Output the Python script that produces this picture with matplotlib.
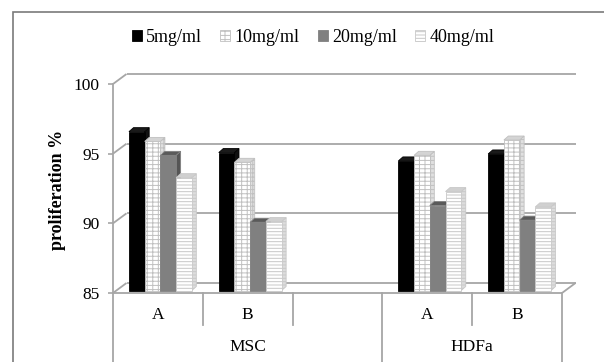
import numpy as np
import matplotlib
matplotlib.use("Agg")
import matplotlib.pyplot as plt
from matplotlib.patches import Polygon, Patch, Rectangle
from matplotlib.lines import Line2D

plt.rcParams['font.family'] = ['Liberation Serif', 'DejaVu Serif']
plt.rcParams['hatch.linewidth'] = 0.7

# ---------------- data ----------------
series_labels = ['5mg/ml', '10mg/ml', '20mg/ml', '40mg/ml']
sub_labels = ['A', 'B', '', 'A', 'B']          # category slots (third MSC slot empty)
group_labels = ['MSC', 'HDFa']
group_spans = [(0, 3), (3, 5)]
bar_slots = [0, 1, 3, 4]                      # slots holding data (MSC A, MSC B, HDFa A, HDFa B)
s5 = [96.4, 94.9, 94.3, 94.8]
s10 = [95.7, 94.2, 94.7, 95.8]
s20 = [94.7, 89.9, 91.1, 90.05]
s40 = [93.1, 89.95, 92.1, 91.0]
series = [s5, s10, s20, s40]
yticks = [85, 90, 95, 100]

# ---------------- styles ----------------
GRID = '#a6a6a6'
front_fc = ['#000000', '#ffffff', '#808080', '#ffffff']
front_ec = ['#000000', '#c0c0c0', '#808080', '#c8c8c8']
hatches = [None, '----|||', None, '-----']
side_fc = ['#101010', '#e0e0e0', '#555555', '#dcdcdc']
top_fc = ['#1a1a1a', '#d4d4d4', '#5a5a5a', '#d0d0d0']

W, H = 604, 362
fig = plt.figure(figsize=(W / 100, H / 100), dpi=100)
fig.patch.set_facecolor('white')

# outer frame
fig.add_artist(Rectangle((13 / W, -0.5), 2, 0.5 + (1 - 12 / H), transform=fig.transFigure,
                         fill=False, edgecolor='#7a7a7a', lw=1.2))

ax_l, ax_r, ax_b, ax_t = 113, 562, 293, 84
ax = fig.add_axes([ax_l / W, (H - ax_b) / H, (ax_r - ax_l) / W, (ax_b - ax_t) / H])
ax.set_xlim(0, 5)
ax.set_ylim(85, 100)
ax.patch.set_visible(False)
for s in ['top', 'right', 'bottom']:
    ax.spines[s].set_visible(False)
ax.spines['left'].set_color(GRID)
ax.spines['left'].set_linewidth(1.3)
ax.set_xticks([])
ax.set_yticks(yticks)
ax.set_yticklabels([str(t) for t in yticks], fontsize=12.5)
ax.tick_params(axis='y', colors=GRID, length=3.6, width=1.2, pad=6, labelcolor='#000000')


def depth(dxp, dyp):
    p0 = ax.transData.transform((0, 85))
    q = ax.transData.inverted().transform((p0[0] + dxp, p0[1] + dyp))
    return q[0] - 0, q[1] - 85


wdx, wdy = depth(13.5, 10)     # wall depth
fdx, fdy = depth(2.5, 2.5)     # bar front offset
bdx, bdy = depth(4.5, 4.0)     # bar depth

lk = dict(color=GRID, lw=1.3, solid_capstyle='butt', clip_on=False, zorder=2)
# back-wall gridlines
for yv in yticks[1:]:
    ax.add_line(Line2D([wdx, 5 + wdx], [yv + wdy, yv + wdy], **lk))
# left wall diagonals
for yv in yticks:
    ax.add_line(Line2D([0, wdx], [yv, yv + wdy], **lk))
# floor
ax.add_line(Line2D([wdx, 5 + wdx], [85 + wdy, 85 + wdy], **lk))
ax.add_line(Line2D([0, 5], [85, 85], **lk))
ax.add_line(Line2D([5, 5 + wdx], [85, 85 + wdy], **lk))

# bars
w = 0.175
start = (1 - 4 * w) / 2
slots = np.array(bar_slots, dtype=float)
for j, vals in enumerate(series):
    vals = np.array(vals)
    xs = slots + start + j * w + fdx
    z = 10 + 2 * j
    for x0, v in zip(xs, vals):
        top = v + fdy
        side = Polygon([(x0 + w, 85 + fdy), (x0 + w + bdx, 85 + fdy + bdy),
                        (x0 + w + bdx, top + bdy), (x0 + w, top)], closed=True,
                       facecolor=side_fc[j], edgecolor=front_ec[j], lw=0.6,
                       hatch=hatches[j], zorder=z, clip_on=False)
        cap = Polygon([(x0, top), (x0 + bdx, top + bdy), (x0 + w + bdx, top + bdy),
                       (x0 + w, top)], closed=True, facecolor=top_fc[j],
                      edgecolor=front_ec[j], lw=0.6, zorder=z, clip_on=False)
        ax.add_patch(side)
        ax.add_patch(cap)
    ax.bar(xs, vals - 85, width=w, bottom=85 + fdy, align='edge',
           color=front_fc[j], edgecolor=front_ec[j], linewidth=0.6,
           hatch=hatches[j], zorder=z + 1, clip_on=False)

# category axis below
xt = ax.get_xaxis_transform()
inner_bottom = -(325 - ax_b) / (ax_b - ax_t)
outer_bottom = -0.5
group_edges = sorted(set([e for span in group_spans for e in span]))
for i in range(len(sub_labels) + 1):
    yb = outer_bottom if i in group_edges else inner_bottom
    ax.add_line(Line2D([i, i], [0, yb], transform=xt, color=GRID, lw=1.3, clip_on=False))
for i, lab in enumerate(sub_labels):
    if lab:
        ax.text(i + 0.5, -(315 - ax_b) / (ax_b - ax_t), lab, transform=xt,
                ha='center', va='center', fontsize=12.5)
for lab, (a, b) in zip(group_labels, group_spans):
    ax.text((a + b) / 2, -(347 - ax_b) / (ax_b - ax_t), lab, transform=xt,
            ha='center', va='center', fontsize=12.5)

# y label
fig.text(57 / W, 1 - 190 / H, 'proliferation %', rotation=90, ha='center', va='center',
         fontsize=13, fontweight='bold')

# legend
handles = [Patch(facecolor=front_fc[j], edgecolor=front_ec[j], hatch=hatches[j], lw=0.6)
           for j in range(4)]
fig.legend(handles, series_labels, loc='center', bbox_to_anchor=(313 / W, 1 - 37 / H),
           ncol=4, frameon=False, fontsize=13, handlelength=0.55, handleheight=0.55,
           handletextpad=0.25, columnspacing=1.0, borderpad=0, borderaxespad=0)

fig.savefig('out.png', dpi=100, facecolor='white')
